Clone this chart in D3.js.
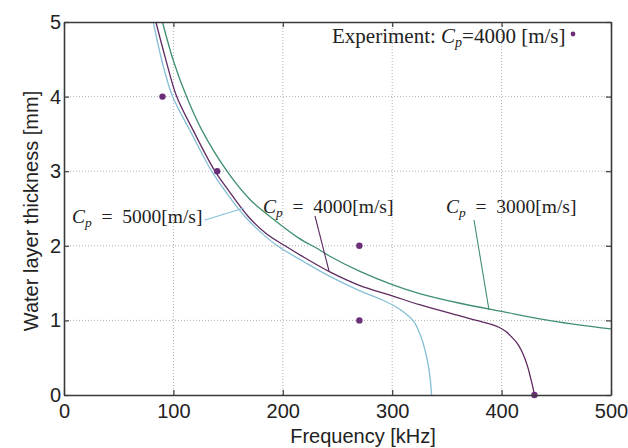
<!DOCTYPE html>
<html>
<head>
<meta charset="utf-8">
<script src="https://cdn.jsdelivr.net/npm/d3@7"></script>
<style>
  html, body { margin: 0; padding: 0; background: #fff; }
  svg { display: block; }
</style>
</head>
<body>
<svg id="chart" width="628" height="448"></svg>
<script>
// Frequency (kHz) vs. water layer thickness (mm) for three P-wave speeds
const cp3000 = [[90,5],[100,4.48],[112,4],[126,3.55],[149,3],[170,2.62],[192,2.35],[215,2.1],[232,1.96],[243,1.86],[270,1.66],[300,1.48],[325,1.36],[362,1.23],[400,1.12],[447,0.99],[500,0.885]];
const cp4000 = [[84,5],[93,4.5],[103,4],[118,3.55],[138,3],[150,2.75],[168,2.4],[185,2.16],[202,2.0],[220,1.84],[243,1.65],[270,1.47],[300,1.33],[325,1.21],[362,1.06],[377,1.0],[390,0.95],[398,0.905],[404,0.85],[409,0.78],[414,0.7],[418,0.6],[421,0.5],[424,0.37],[426.5,0.23],[428.5,0.11],[430,0]];
const cp5000 = [[81.6,5],[90,4.45],[99.3,4],[115,3.55],[135,3],[150,2.68],[165,2.4],[180,2.18],[195,2.0],[220,1.78],[243,1.59],[270,1.4],[290,1.28],[300,1.21],[308,1.14],[314,1.07],[319,1.0],[322,0.93],[325,0.83],[327.5,0.73],[330,0.6],[332,0.47],[333.5,0.35],[335,0.18],[336,0]];
const experiment = [[90,4],[140,3],[270,2],[270,1],[430,0]];
const xTicks = [0,100,200,300,400,500];
const yTicks = [0,1,2,3,4,5];

const colors = { c3000: "#3f8f6e", c4000: "#5e2a62", c5000: "#86bfd6", dot: "#6b2f78" };

const svg = d3.select("#chart");
const x = d3.scaleLinear().domain([0, 500]).range([64, 611]);
const y = d3.scaleLinear().domain([0, 5]).range([395, 22]);

// dotted grid
const grid = svg.append("g").attr("stroke", "#9a9a9a").attr("stroke-width", 0.8).attr("stroke-dasharray", "1,2");
[100,200,300,400].forEach(v => grid.append("line").attr("x1", x(v)).attr("x2", x(v)).attr("y1", y(0)).attr("y2", y(5)));
[1,2,3,4].forEach(v => grid.append("line").attr("x1", x(0)).attr("x2", x(500)).attr("y1", y(v)).attr("y2", y(v)));

// curves
const line = d3.line().x(d => x(d[0])).y(d => y(d[1])).curve(d3.curveCatmullRom.alpha(0.5));
const curves = svg.append("g").attr("fill", "none").attr("stroke-width", 1.3);
curves.append("path").datum(cp5000).attr("d", line).attr("stroke", colors.c5000);
curves.append("path").datum(cp4000).attr("d", line).attr("stroke", colors.c4000);
curves.append("path").datum(cp3000).attr("d", line).attr("stroke", colors.c3000);

// experimental points
svg.append("g").selectAll("circle").data(experiment).join("circle")
  .attr("cx", d => x(d[0])).attr("cy", d => y(d[1])).attr("r", 3.2).attr("fill", colors.dot);

// axes (inward ticks on all four sides)
const axisColor = "#3a3a3a";
const axBottom = svg.append("g").attr("transform", `translate(0,${y(0)})`)
  .call(d3.axisBottom(x).tickValues(xTicks).tickSize(-5).tickSizeOuter(0).tickPadding(9));
const axTop = svg.append("g").attr("transform", `translate(0,${y(5)})`)
  .call(d3.axisTop(x).tickValues(xTicks).tickSize(-5).tickSizeOuter(0).tickFormat(""));
const axLeft = svg.append("g").attr("transform", `translate(${x(0)},0)`)
  .call(d3.axisLeft(y).tickValues(yTicks).tickSize(-5).tickSizeOuter(0).tickPadding(3).tickFormat(d3.format("d")));
const axRight = svg.append("g").attr("transform", `translate(${x(500)},0)`)
  .call(d3.axisRight(y).tickValues(yTicks).tickSize(-5).tickSizeOuter(0).tickFormat(""));
[axBottom, axTop, axLeft, axRight].forEach(g => {
  g.select(".domain").attr("stroke", axisColor).attr("stroke-width", 1.6);
  g.selectAll(".tick line").attr("stroke", axisColor).attr("stroke-width", 1.2);
  g.selectAll(".tick text").attr("fill", "#222").style("font-family", "Liberation Sans, Arial, sans-serif").style("font-size", "20px");
});

// axis titles
svg.append("text").attr("x", 363).attr("y", 443).attr("text-anchor", "middle")
  .style("font-family", "Liberation Sans, Arial, sans-serif").style("font-size", "20px").attr("fill", "#222")
  .text("Frequency [kHz]");
svg.append("text").attr("transform", "translate(38,211) rotate(-90)").attr("text-anchor", "middle")
  .style("font-family", "Liberation Sans, Arial, sans-serif").style("font-size", "20px").attr("fill", "#222")
  .text("Water layer thickness [mm]");

// annotations: C_p label with italic C and subscript p
const serif = "Liberation Serif, Times New Roman, serif";
function cpLabel(px, py, rest) {
  const t = svg.append("text").attr("x", px).attr("y", py)
    .style("font-family", serif).style("font-size", "19.5px").attr("fill", "#222");
  t.append("tspan").style("font-style", "italic").text("C");
  t.append("tspan").style("font-style", "italic").style("font-size", "13.5px").attr("dy", 4).text("p");
  t.append("tspan").attr("dy", -4).text(rest);
  return t;
}
cpLabel(72, 223, "\u2002=\u20025000[m/s]");
cpLabel(263, 213, "\u2002=\u20024000[m/s]");
cpLabel(446, 213, "\u2002=\u20023000[m/s]");

const exp = svg.append("text").attr("x", 332).attr("y", 43)
  .style("font-family", serif).style("font-size", "21px").attr("fill", "#222");
exp.append("tspan").text("Experiment: ");
exp.append("tspan").style("font-style", "italic").text("C");
exp.append("tspan").style("font-style", "italic").style("font-size", "14px").attr("dy", 4).text("p");
exp.append("tspan").attr("dy", -4).text("=4000 [m/s]");
svg.append("circle").attr("cx", 573).attr("cy", 34).attr("r", 2.4).attr("fill", colors.dot);

// leader lines from labels to curves
const leaders = [
  { x1: 205, y1: 220, x2: 244, y2: 208, c: colors.c5000 },
  { x1: 315, y1: 216, x2: 329, y2: 271, c: colors.c4000 },
  { x1: 474, y1: 220, x2: 489, y2: 310, c: colors.c3000 }
];
svg.append("g").selectAll("line").data(leaders).join("line")
  .attr("x1", d => d.x1).attr("y1", d => d.y1).attr("x2", d => d.x2).attr("y2", d => d.y2)
  .attr("stroke", d => d.c).attr("stroke-width", 1.1);
</script>
</body>
</html>
